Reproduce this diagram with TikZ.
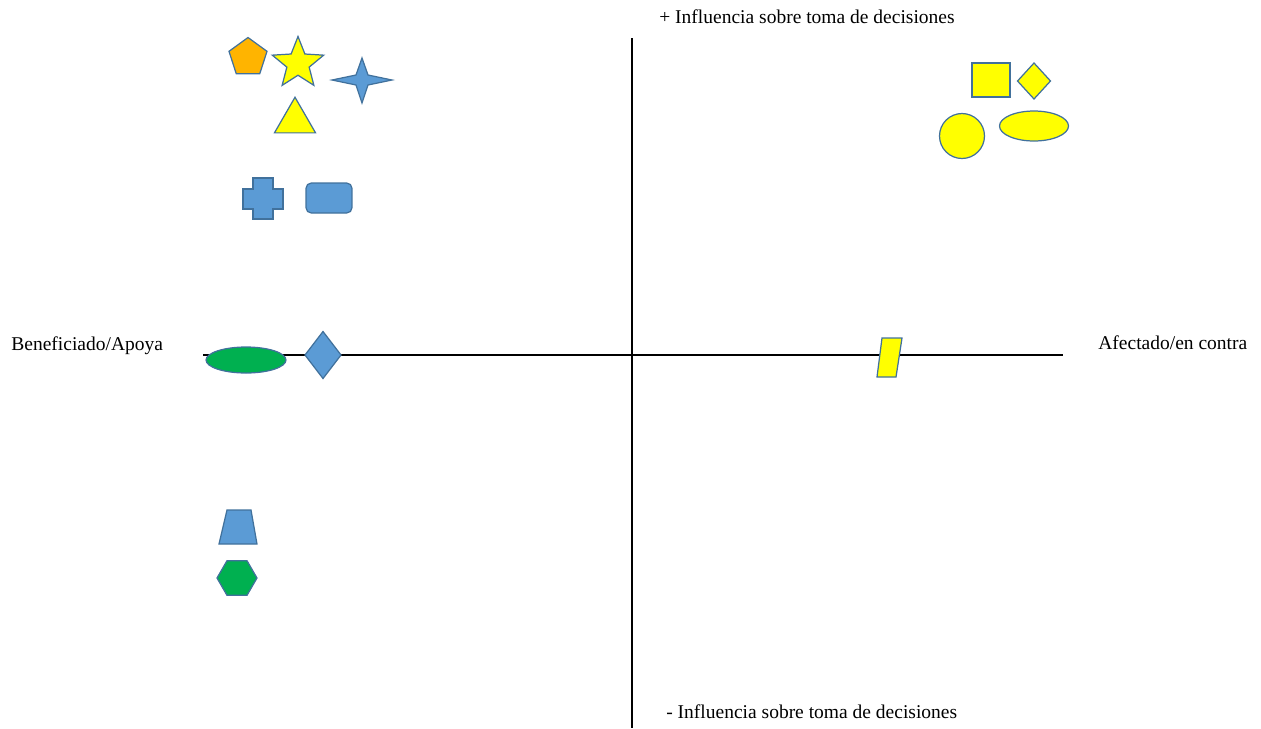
\documentclass[tikz,border=0pt]{standalone}
\usepackage{fontspec}
\setmainfont{Liberation Serif}
\usetikzlibrary{shapes.geometric, positioning}
\definecolor{OfficeBlue}{RGB}{91,155,213}
\definecolor{EdgeBlue}{RGB}{65,113,156}
\definecolor{OfficeGreen}{RGB}{0,176,80}
\definecolor{OfficeYellow}{RGB}{255,255,0}
\definecolor{OfficeOrange}{RGB}{255,180,0}

\begin{document}
\begin{tikzpicture}[
    x=0.02cm, y=-0.02cm,
    font=\fontsize{11.1}{13}\selectfont,
    axis/.style={line width=1.2pt, black},
    lbl/.style={inner sep=0pt, anchor=west},
    actor/.style={draw=EdgeBlue, line width=0.7pt, inner sep=0pt, outer sep=0pt},
    azul/.style={actor, fill=OfficeBlue},
    verde/.style={actor, fill=OfficeGreen},
    amarillo/.style={actor, fill=OfficeYellow},
    naranja/.style={actor, fill=OfficeOrange},
]
\useasboundingbox (0,0) rectangle (1261,728);

% ============ EJES ============
\coordinate (izq) at (203,355);
\coordinate (der) at (1063,355);
\coordinate (arriba) at (632,38);
\coordinate (abajo) at (632,728);
\draw[axis] (izq) -- (der);
\draw[axis] (arriba) -- (abajo);

\node[lbl] (masinf) at (659,17) {+ Influencia sobre toma de decisiones};
\node[lbl] (menosinf) at (666,712) {- Influencia sobre toma de decisiones};
\node[lbl] (apoya) at (11,346) {Beneficiado/Apoya};
\node[lbl] (contra) at (1098,343) {Afectado/en contra};

% ============ CUADRANTE: apoya, + influencia ============
\node[naranja, regular polygon, regular polygon sides=5, minimum size=0.8cm] (pentagono) at (248,57.5) {};
\node[amarillo, star, star points=5, star point ratio=2.3, minimum size=1.08cm] (estrella) at (298,63.5) {};
\draw[azul] (392,80) -- (368,75) -- (362,58) -- (356,75) -- (332,80)
    -- (356,85) -- (362,103) -- (368,85) -- cycle;
\node[amarillo, regular polygon, regular polygon sides=3, minimum size=0.95cm] (triangulo) at (295,121) {};
% cruz
\draw[azul] (253,178) -- (273,178) -- (273,189) -- (283,189) -- (283,209) -- (273,209)
    -- (273,219) -- (253,219) -- (253,209) -- (243,209) -- (243,189) -- (253,189) -- cycle;
\node[azul, rectangle, rounded corners=3pt, minimum width=0.92cm, minimum height=0.6cm] (redondeado) at (329,198) {};

% ============ sobre el eje ============
\node[verde, ellipse, minimum width=1.6cm, minimum height=0.52cm] (elipseverde) at (246,360) {};
\node[azul, diamond, minimum width=0.72cm, minimum height=0.94cm] (rombo) at (323,355) {};
\draw[amarillo] (882,338) -- (902,338) -- (896,377) -- (877,377) -- cycle;

% ============ CUADRANTE: apoya, - influencia ============
\draw[azul] (227,510) -- (251,510) -- (257,544) -- (219,544) -- cycle;
\node[verde, regular polygon, regular polygon sides=6, minimum size=0.8cm] (hexagono) at (237,578) {};

% ============ CUADRANTE: en contra, + influencia ============
\node[amarillo, rectangle, minimum width=0.76cm, minimum height=0.68cm] (cuadrado) at (991,80) {};
\node[amarillo, diamond, minimum width=0.66cm, minimum height=0.72cm] (rombochico) at (1034,81) {};
\node[amarillo, circle, minimum size=0.9cm] (circulo) at (962,136) {};
\node[amarillo, ellipse, minimum width=1.38cm, minimum height=0.6cm] (elipse) at (1034,126) {};

\end{tikzpicture}
\end{document}
